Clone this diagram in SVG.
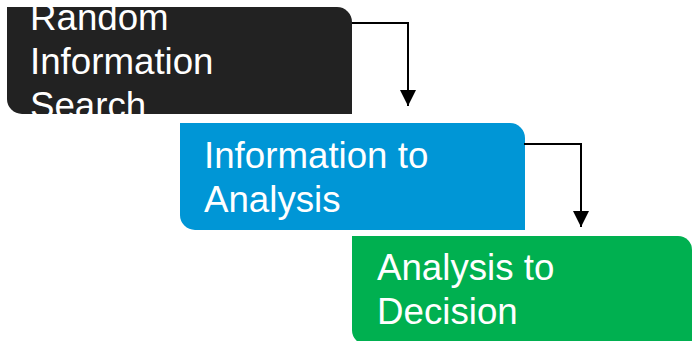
<svg xmlns="http://www.w3.org/2000/svg" width="692" height="341" viewBox="0 0 692 341">
  <style>
    .lbl { font-family: "Liberation Sans", Arial, sans-serif; font-size: 36.7px; fill: #ffffff; }
    .conn { fill: none; stroke: #000000; stroke-width: 2; }
  </style>
  <defs>
    <marker id="arrow" markerUnits="userSpaceOnUse" markerWidth="16" markerHeight="16" refX="16" refY="8" orient="auto">
      <path d="M0,0 L16,8 L0,16 Z" fill="#000000"/>
    </marker>
    <clipPath id="c1"><path d="M7,7 H337 A15,15 0 0 1 352,22 V114 H22 A15,15 0 0 1 7,99 Z"/></clipPath>
    <clipPath id="c2"><path d="M180,123 H510 A15,15 0 0 1 525,138 V230 H195 A15,15 0 0 1 180,215 Z"/></clipPath>
    <clipPath id="c3"><path d="M352,236 H678 A14,14 0 0 1 692,250 V345 H367 A15,15 0 0 1 352,330 Z"/></clipPath>
  </defs>
  <g id="node-random">
    <path d="M7,7 H337 A15,15 0 0 1 352,22 V114 H22 A15,15 0 0 1 7,99 Z" fill="#222222"/>
    <g clip-path="url(#c1)">
      <text class="lbl" x="30" y="30">Random</text>
      <text class="lbl" x="30" y="74">Information</text>
      <text class="lbl" x="30" y="118">Search</text>
    </g>
  </g>
  <g id="node-info">
    <path d="M180,123 H510 A15,15 0 0 1 525,138 V230 H195 A15,15 0 0 1 180,215 Z" fill="#0096D6"/>
    <g clip-path="url(#c2)">
      <text class="lbl" x="204" y="168">Information to</text>
      <text class="lbl" x="204" y="212">Analysis</text>
    </g>
  </g>
  <g id="node-analysis">
    <path d="M352,236 H678 A14,14 0 0 1 692,250 V345 H367 A15,15 0 0 1 352,330 Z" fill="#00B050"/>
    <g clip-path="url(#c3)">
      <text class="lbl" x="377" y="280">Analysis to</text>
      <text class="lbl" x="377" y="324">Decision</text>
    </g>
  </g>
  <g id="connectors">
    <path class="conn" d="M352,23 H408 V106" marker-end="url(#arrow)"/>
    <path class="conn" d="M524,144 H581 V227" marker-end="url(#arrow)"/>
  </g>
</svg>
